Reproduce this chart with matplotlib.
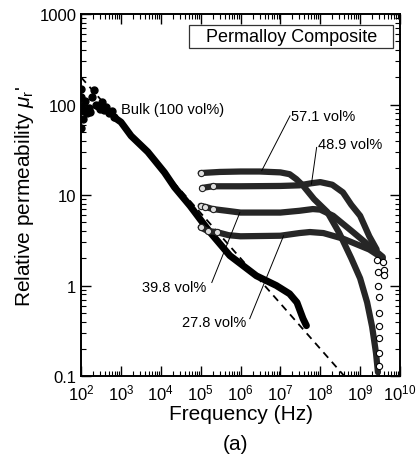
import matplotlib
matplotlib.use("Agg")
import matplotlib.pyplot as plt
from matplotlib.patches import Rectangle
from matplotlib.ticker import LogLocator, FuncFormatter, NullFormatter

plt.rcParams["font.family"] = ["Liberation Sans", "DejaVu Sans"]
plt.rcParams["mathtext.fontset"] = "custom"
plt.rcParams["mathtext.rm"] = "Liberation Sans"
plt.rcParams["mathtext.it"] = "Liberation Sans:italic"

# bulk sample: noisy low-frequency part + smooth roll-off
bulk_noise_f = [100, 100, 102, 106, 110, 118, 128, 140, 155, 170, 190, 215, 240,
                260, 290, 330, 380, 430, 500, 580, 680]
bulk_noise_mu = [150, 55, 120, 95, 70, 85, 110, 80, 92, 82, 120, 145, 100,
                 97, 90, 106, 88, 95, 80, 85, 72]
bulk_f = [680, 1e3, 1.8e3, 4.7e3, 1.23e4, 2.2e4, 5.4e4, 1e5, 1.7e5, 5.4e5,
          2.5e6, 7.9e6, 1.7e7, 2.6e7, 3.7e7, 4.5e7]
bulk_mu = [72, 64, 45, 30, 17.8, 12.2, 7.6, 5.3, 3.9, 2.14,
           1.28, 1.0, 0.81, 0.65, 0.43, 0.36]

# dashed guide line
fit_f = [1e2, 4e8]
fit_mu = [200, 0.1]

# composites
f571 = [1e5, 3e5, 1e6, 3e6, 1e7, 1.7e7, 2.5e7, 3.7e7, 7e7, 1.5e8, 3e8, 6e8,
        1e9, 1.5e9, 2e9, 2.5e9, 2.8e9]
mu571 = [17.5, 18, 18.2, 18.2, 17.8, 17, 15, 12.7, 9.0, 6.5, 3.8, 2.0,
         1.2, 0.65, 0.35, 0.18, 0.11]

f489 = [1.1e5, 2e5, 1e6, 1e7, 3e7, 6e7, 1e8, 2e8, 3.7e8, 6e8, 1e9, 1.7e9, 2.6e9]
mu489 = [12.0, 12.5, 12.5, 12.6, 12.8, 13.5, 13.9, 13.0, 10.7, 7.8, 5.9, 3.5, 2.5]
f489_tail = [2.65e9, 2.75e9, 2.8e9, 2.9e9, 2.95e9, 3.0e9, 3.05e9, 3.0e9, 2.95e9]
mu489_tail = [1.9, 1.4, 1.0, 0.75, 0.5, 0.36, 0.26, 0.18, 0.13]

f398 = [1e5, 1.3e5, 2e5, 4.5e5, 1e6, 1e7, 3e7, 6.5e7, 1e8, 2.1e8, 6.6e8, 1.7e9, 3.7e9]
mu398 = [7.6, 7.4, 7.0, 6.7, 6.4, 6.4, 6.7, 7.0, 6.9, 5.9, 3.9, 2.75, 2.07]

f278 = [1e5, 1.5e5, 2.5e5, 5e5, 1e6, 1e7, 3e7, 5.5e7, 1.2e8, 3.7e8, 1.7e9, 3.7e9]
mu278 = [4.4, 4.0, 3.9, 3.6, 3.5, 3.55, 3.8, 3.9, 3.8, 3.3, 2.5, 2.0]
f278_tail = [3.8e9, 3.9e9, 4.0e9]
mu278_tail = [1.8, 1.5, 1.3]

fig = plt.figure(figsize=(4.16, 4.64), dpi=100)
ax = fig.add_axes([0.195, 0.1875, 0.7665, 0.780])

ax.plot(fit_f, fit_mu, ls=(0, (4, 3)), color="k", lw=1.3)

ax.plot(bulk_noise_f, bulk_noise_mu, "o", color="k", ms=5)
ax.plot(bulk_f, bulk_mu, "-", color="k", lw=5, solid_capstyle="round")

for f, mu in [(f571, mu571), (f489, mu489), (f398, mu398), (f278, mu278)]:
    ax.plot(f, mu, "-", color="#262626", lw=4.5, solid_capstyle="round")
    # open circles visible where each sweep starts
    start = [(x, y) for x, y in zip(f, mu) if x <= 2.5e5]
    ax.plot([p[0] for p in start], [p[1] for p in start], "o",
            mfc="#dddddd", mec="#222222", ms=4.5, mew=0.8)
ax.plot(f489_tail, mu489_tail, "o", mfc="white", mec="k", ms=4.5, mew=0.8)
ax.plot(f278_tail, mu278_tail, "o", mfc="white", mec="k", ms=4.5, mew=0.8)

ax.set_xscale("log")
ax.set_yscale("log")
ax.set_xlim(1e2, 1e10)
ax.set_ylim(0.1, 1000)
ax.xaxis.set_major_locator(LogLocator(base=10, numticks=20))
ax.xaxis.set_minor_locator(LogLocator(base=10, subs=range(2, 10), numticks=20))
ax.xaxis.set_minor_formatter(NullFormatter())
ax.yaxis.set_major_formatter(FuncFormatter(lambda v, _: f"{v:g}"))
ax.yaxis.set_minor_formatter(NullFormatter())
ax.tick_params(which="both", direction="in", top=True, right=True, labelsize=12)
ax.tick_params(which="major", length=7, width=1)
ax.tick_params(which="minor", length=3.5, width=0.8)
ax.tick_params(axis="x", pad=5)
for s in ax.spines.values():
    s.set_linewidth(1.4)

ax.set_xlabel("Frequency (Hz)", fontsize=15, labelpad=1)
ax.set_ylabel(r"Relative permeability $\mu_\mathregular{r}$'", fontsize=15, labelpad=2)

ax.add_patch(Rectangle((0.339, 0.906), 0.639, 0.064, transform=ax.transAxes,
                       fc="white", ec="#333333", lw=0.9, zorder=3))
ax.text(0.66, 0.938, "Permalloy Composite", transform=ax.transAxes, ha="center",
        va="center", fontsize=13, zorder=4)

ax.text(1.0e3, 89, "Bulk (100 vol%)", fontsize=10.5, va="center")
ax.text(1.85e7, 74, "57.1 vol%", fontsize=10.5, va="center")
ax.plot([1.74e7, 3.4e6], [75, 18.6], color="k", lw=0.7)
ax.text(8.7e7, 36.6, "48.9 vol%", fontsize=10.5, va="center")
ax.plot([8.1e7, 6e7], [33.6, 13.2], color="k", lw=0.7)
ax.text(1.4e5, 0.975, "39.8 vol%", fontsize=10.5, va="center", ha="right")
ax.plot([1.9e5, 9.6e5], [1.08, 6.4], color="k", lw=0.7)
ax.text(1.4e6, 0.395, "27.8 vol%", fontsize=10.5, va="center", ha="right")
ax.plot([1.7e6, 1.2e7], [0.43, 3.55], color="k", lw=0.7)

fig.text(0.565, 0.022, "(a)", ha="center", va="bottom", fontsize=15)

fig.savefig("out.png", dpi=100)
